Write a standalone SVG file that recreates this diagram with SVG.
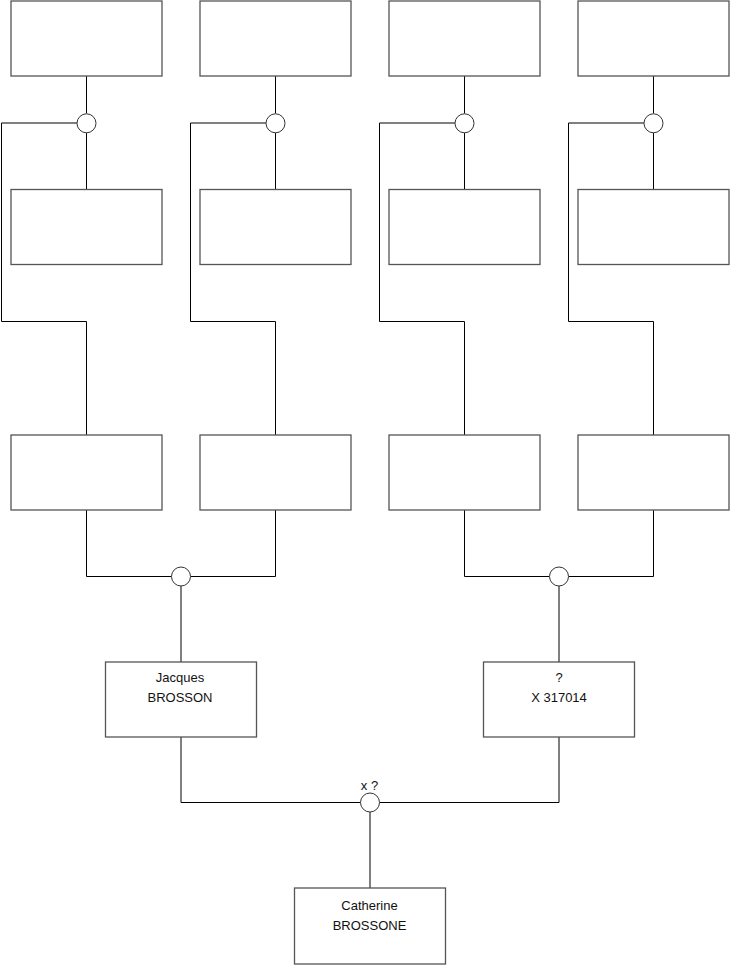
<svg xmlns="http://www.w3.org/2000/svg" width="740" height="975" viewBox="0 0 740 975">
<style>
.box{fill:#fff;stroke:#555;stroke-width:1.3}
.ln{fill:none;stroke:#000;stroke-width:1}
.ring{fill:#fff;stroke:#333;stroke-width:1}
.t{font-family:"Liberation Sans",Arial,sans-serif;font-size:13px;fill:#111;text-anchor:middle}
</style>
<rect width="740" height="975" fill="#fff"/>
<g id="connectors">
<path class="ln" d="M86.5 76V113.5M86.5 132.5V189M77 123H1.5V321.5H86.5V435"/>
<path class="ln" d="M275.5 76V113.5M275.5 132.5V189M266 123H190.5V321.5H275.5V435"/>
<path class="ln" d="M464.5 76V113.5M464.5 132.5V189M455 123H379.5V321.5H464.5V435"/>
<path class="ln" d="M653.5 76V113.5M653.5 132.5V189M644 123H568.5V321.5H653.5V435"/>
<path class="ln" d="M86.5 510V576.5H171.5M190.5 576.5H275.5V510M181 586V662"/>
<path class="ln" d="M464.5 510V576.5H549.5M568.5 576.5H653.5V510M559 586V662"/>
<path class="ln" d="M181 737V802.5H360.5M379.5 802.5H559V737M370 812V888"/>
</g>
<g id="j1"><circle class="ring" cx="86.5" cy="123.3" r="9.5"/></g>
<g id="j2"><circle class="ring" cx="275.5" cy="123.3" r="9.5"/></g>
<g id="j3"><circle class="ring" cx="464.5" cy="123.3" r="9.5"/></g>
<g id="j4"><circle class="ring" cx="653.5" cy="123.3" r="9.5"/></g>
<g id="j5"><circle class="ring" cx="181" cy="576.5" r="9.5"/></g>
<g id="j6"><circle class="ring" cx="559" cy="576.5" r="9.5"/></g>
<g id="j7"><circle class="ring" cx="370" cy="802.5" r="9.5"/><text class="t" x="369.5" y="789.5">x ?</text></g>
<g id="n1"><rect class="box" x="11" y="1" width="151" height="75"/></g>
<g id="n2"><rect class="box" x="200" y="1" width="151" height="75"/></g>
<g id="n3"><rect class="box" x="389" y="1" width="151" height="75"/></g>
<g id="n4"><rect class="box" x="578" y="1" width="151" height="75"/></g>
<g id="n5"><rect class="box" x="11" y="189.5" width="151" height="75"/></g>
<g id="n6"><rect class="box" x="200" y="189.5" width="151" height="75"/></g>
<g id="n7"><rect class="box" x="389" y="189.5" width="151" height="75"/></g>
<g id="n8"><rect class="box" x="578" y="189.5" width="151" height="75"/></g>
<g id="n9"><rect class="box" x="11" y="435" width="151" height="75"/></g>
<g id="n10"><rect class="box" x="200" y="435" width="151" height="75"/></g>
<g id="n11"><rect class="box" x="389" y="435" width="151" height="75"/></g>
<g id="n12"><rect class="box" x="578" y="435" width="151" height="75"/></g>
<g id="n13"><rect class="box" x="105.5" y="662" width="151" height="75"/><text class="t" x="180" y="682">Jacques</text><text class="t" x="180" y="702">BROSSON</text></g>
<g id="n14"><rect class="box" x="483.5" y="662" width="151" height="75"/><text class="t" x="559" y="682">?</text><text class="t" x="559" y="702">X 317014</text></g>
<g id="n15"><rect class="box" x="294.5" y="888" width="151" height="76"/><text class="t" x="369.5" y="910">Catherine</text><text class="t" x="369.5" y="930">BROSSONE</text></g>
</svg>
